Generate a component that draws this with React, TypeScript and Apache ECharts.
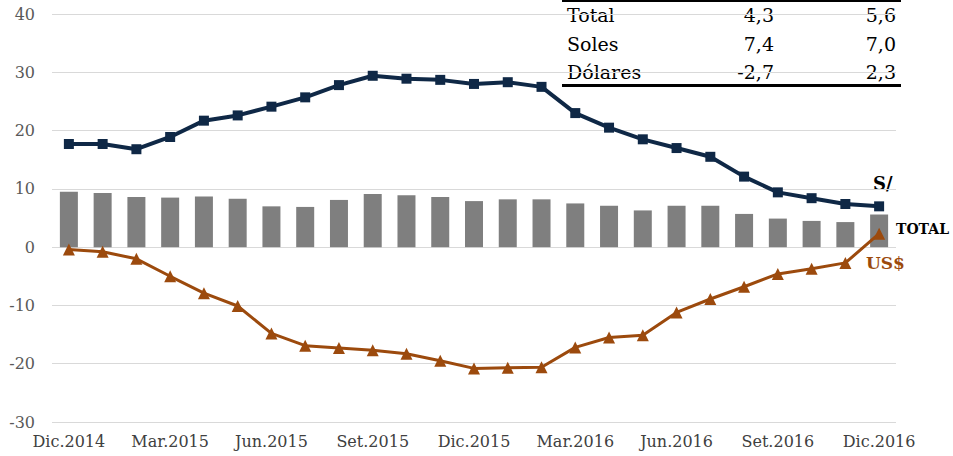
import React, { useEffect, useRef } from "react";
import * as echarts from "echarts";

const categories = [
  "Dic.2014", "Ene.2015", "Feb.2015", "Mar.2015", "Abr.2015", "May.2015", "Jun.2015",
  "Jul.2015", "Ago.2015", "Set.2015", "Oct.2015", "Nov.2015", "Dic.2015",
  "Ene.2016", "Feb.2016", "Mar.2016", "Abr.2016", "May.2016", "Jun.2016",
  "Jul.2016", "Ago.2016", "Set.2016", "Oct.2016", "Nov.2016", "Dic.2016",
];

const totalValues = [
  9.5, 9.3, 8.6, 8.5, 8.7, 8.3, 7.0, 6.9, 8.1, 9.1, 8.9, 8.6, 7.9,
  8.2, 8.2, 7.5, 7.1, 6.3, 7.1, 7.1, 5.7, 4.9, 4.5, 4.3, 5.6,
];

const solesValues = [
  17.7, 17.7, 16.8, 18.9, 21.7, 22.6, 24.1, 25.7, 27.8, 29.4, 28.9, 28.7, 28.0,
  28.3, 27.5, 23.0, 20.5, 18.5, 17.0, 15.5, 12.1, 9.4, 8.4, 7.4, 7.0,
];

const dolaresValues = [
  -0.4, -0.8, -2.0, -5.0, -7.9, -10.1, -14.8, -16.9, -17.3, -17.7, -18.3, -19.5, -20.8,
  -20.7, -20.6, -17.2, -15.5, -15.1, -11.2, -8.9, -6.8, -4.6, -3.7, -2.7, 2.3,
];

const tableRows = ["Total", "Soles", "Dólares"];
const tableCol1 = ["4,3", "7,4", "-2,7"];
const tableCol2 = ["5,6", "7,0", "2,3"];

const NAVY = "#0f2846";
const BROWN = "#9c4a0d";
const FONT = "DejaVu Serif";

export default function App() {
  const ref = useRef<HTMLDivElement>(null);

  useEffect(() => {
    if (!ref.current) return;
    const chart = echarts.init(ref.current, null, { renderer: "svg" });

    const tableGraphics: any[] = [
      { type: "rect", shape: { x: 562, y: 0, width: 339, height: 2 }, style: { fill: "#000" } },
      { type: "rect", shape: { x: 562, y: 84, width: 339, height: 3 }, style: { fill: "#000" } },
    ];
    const rowY = [15, 44, 72];
    tableRows.forEach((r, i) => {
      tableGraphics.push({
        type: "text", x: 567, y: rowY[i],
        style: { text: r, font: `19px '${FONT}'`, fill: "#000", textVerticalAlign: "middle", textAlign: "left" },
      });
      tableGraphics.push({
        type: "text", x: 774, y: rowY[i],
        style: { text: tableCol1[i], font: `19px '${FONT}'`, fill: "#000", textVerticalAlign: "middle", textAlign: "right" },
      });
      tableGraphics.push({
        type: "text", x: 896, y: rowY[i],
        style: { text: tableCol2[i], font: `19px '${FONT}'`, fill: "#000", textVerticalAlign: "middle", textAlign: "right" },
      });
    });

    const labelGraphics: any[] = [
      { type: "text", x: 873, y: 183, style: { text: "S/", font: `bold 18px '${FONT}'`, fill: "#000", textVerticalAlign: "middle" } },
      { type: "text", x: 896, y: 229, style: { text: "TOTAL", font: `bold 14px '${FONT}'`, fill: "#000", textVerticalAlign: "middle" } },
      { type: "text", x: 866, y: 263, style: { text: "US$", font: `bold 17px '${FONT}'`, fill: BROWN, textVerticalAlign: "middle" } },
    ];

    chart.setOption({
      animation: false,
      backgroundColor: "#fff",
      grid: { left: 52, right: 57, top: 14, bottom: 34, containLabel: false },
      xAxis: {
        type: "category",
        data: categories,
        axisLine: { show: false },
        axisTick: { show: false },
        axisLabel: {
          interval: 2,
          color: "#404040",
          fontFamily: FONT,
          fontSize: 16,
          margin: 11,
        },
        splitLine: { show: false },
      },
      yAxis: {
        type: "value",
        min: -30,
        max: 40,
        interval: 10,
        axisLine: { show: false },
        axisTick: { show: false },
        axisLabel: { color: "#595959", fontFamily: FONT, fontSize: 16, margin: 17 },
        splitLine: { lineStyle: { color: "#d9d9d9", width: 1 } },
      },
      series: [
        {
          name: "TOTAL",
          type: "bar",
          data: totalValues,
          barWidth: 18,
          itemStyle: { color: "#7f7f7f" },
        },
        {
          name: "S/",
          type: "line",
          data: solesValues,
          symbol: "rect",
          symbolSize: 10,
          lineStyle: { color: NAVY, width: 4 },
          itemStyle: { color: NAVY },
        },
        {
          name: "US$",
          type: "line",
          data: dolaresValues,
          symbol: "triangle",
          symbolSize: 12,
          lineStyle: { color: BROWN, width: 3 },
          itemStyle: { color: BROWN },
        },
      ],
      graphic: [...tableGraphics, ...labelGraphics],
    });

    return () => chart.dispose();
  }, []);

  return <div ref={ref} style={{ width: 953, height: 456, position: "absolute", left: 0, top: 0 }} />;
}
